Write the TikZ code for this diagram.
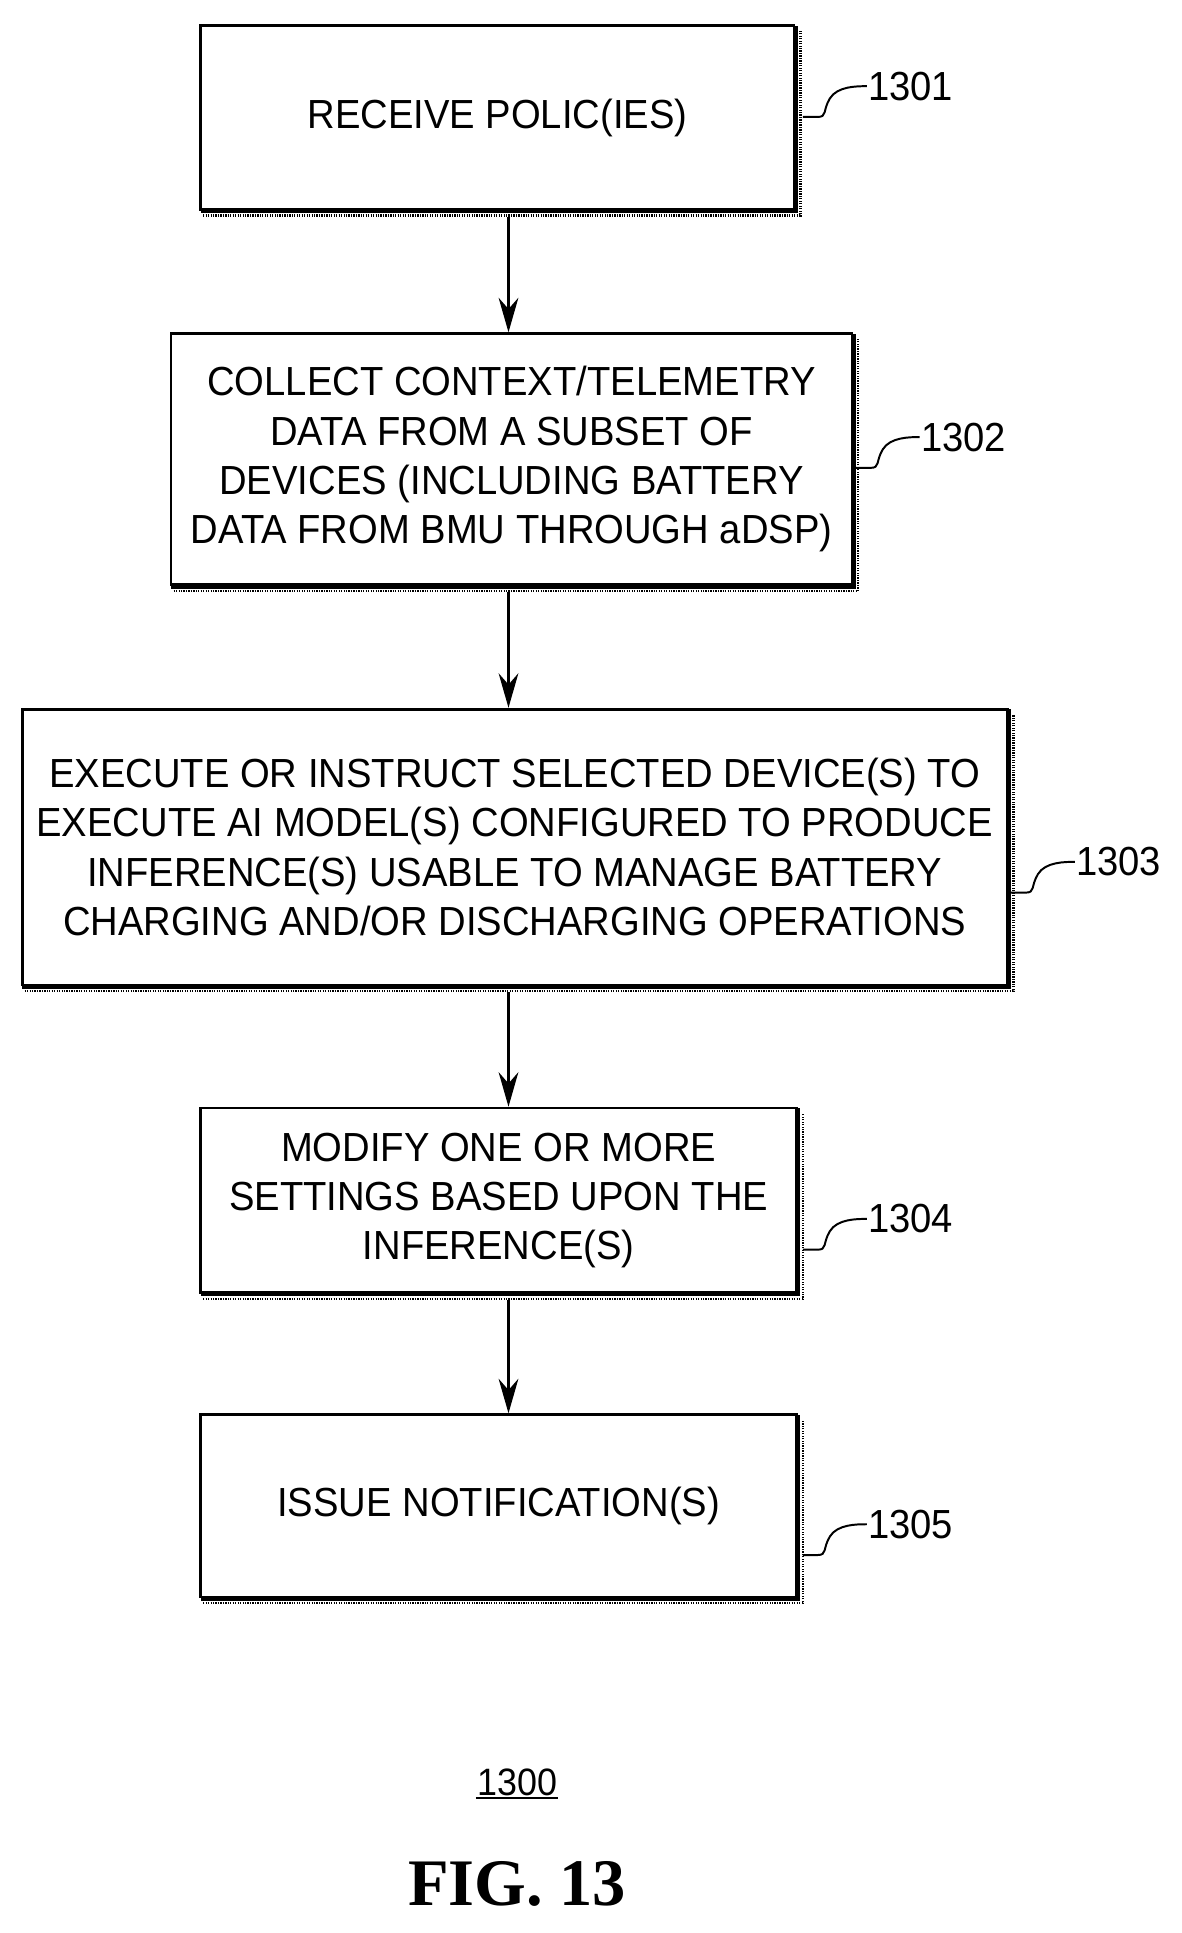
\documentclass[tikz,border=0pt]{standalone}
\usepackage{fontspec}
\setmainfont{Liberation Sans}
\newfontfamily\figfont{Liberation Serif}
\usetikzlibrary{arrows.meta}
\begin{document}
\begin{tikzpicture}[x=1pt,y=-1pt,
  box/.style={draw,line width=2.2pt,align=center,inner sep=0pt,font=\fontsize{33}{40}\selectfont},
  arr/.style={line width=2.2pt,-{Stealth[length=28pt,width=16pt]}},
  lbl/.style={font=\fontsize{33}{36}\selectfont,anchor=west,inner sep=1pt},
  sq/.style={line width=1.6pt}]
\useasboundingbox (0,0) rectangle (960,1570);
\newcommand{\mybox}[6]{%
  \node[box,minimum width=#3-#1,minimum height=#4-#2] (#5) at ({(#1+#3)/2},{(#2+#4)/2+3}) {};
  \node[font=\fontsize{33}{40}\selectfont,align=center,xscale=0.94] at ({(#1+#3)/2},{(#2+#4)/2+3}) {#6};
  \draw[line width=4pt] (#1,#4+4) -- (#3+1,#4+4) -- (#3+1,#2+3);
  \draw[line width=2pt,dash pattern=on 1pt off 1pt] (#1+2,#4+8) -- (#3+5,#4+8) -- (#3+5,#2+7);
}
\mybox{163}{18}{645}{167}{b1}{RECEIVE POLIC(IES)}
\mybox{139}{268}{692}{472}{b2}{COLLECT CONTEXT/TELEMETRY\\DATA FROM A SUBSET OF\\DEVICES (INCLUDING BATTERY\\DATA FROM BMU THROUGH aDSP)}
\mybox{18}{573}{818}{797}{b3}{EXECUTE OR INSTRUCT SELECTED DEVICE(S) TO\\EXECUTE AI MODEL(S) CONFIGURED TO PRODUCE\\INFERENCE(S) USABLE TO MANAGE BATTERY\\CHARGING AND/OR DISCHARGING OPERATIONS}
\mybox{163}{897}{647}{1047}{b4}{MODIFY ONE OR MORE\\SETTINGS BASED UPON THE\\INFERENCE(S)}
\mybox{163}{1146}{647}{1294}{b5}{ISSUE NOTIFICATION(S)}
\coordinate (a1) at (413,176); \coordinate (a2) at (413,481); \coordinate (a3) at (413,806); \coordinate (a4) at (413,1056);
\draw[arr] (a1) -- (a1 |- b2.north);
\draw[arr] (a2) -- (a2 |- b3.north);
\draw[arr] (a3) -- (a3 |- b4.north);
\draw[arr] (a4) -- (a4 |- b5.north);
\newcommand{\tag}[4]{%
  \node[lbl,xscale=0.94] (#3) at (#1,#2) {#4};
  \coordinate (s#3) at (#1-52,#2+25);
  \draw[sq] (s#3) -- ++(12,0) .. controls ++(8,0) and ++(-6,10) .. ++(10,-15) .. controls ++(6,-10) and ++(-8,0) .. (#3.west);
}
\tag{704}{70}{t1}{1301}
\tag{747}{355}{t2}{1302}
\tag{873}{700}{t3}{1303}
\tag{704}{990}{t4}{1304}
\tag{704}{1238}{t5}{1305}
\node[font=\fontsize{31}{34}\selectfont,inner sep=1pt,xscale=0.94] (n) at (420,1448) {1300};
\draw[line width=1.5pt] (n.south west) -- (n.south east);
\node[font=\figfont\bfseries\fontsize{54}{60}\selectfont] (f) at (420,1530) {FIG. 13};
\end{tikzpicture}
\end{document}
